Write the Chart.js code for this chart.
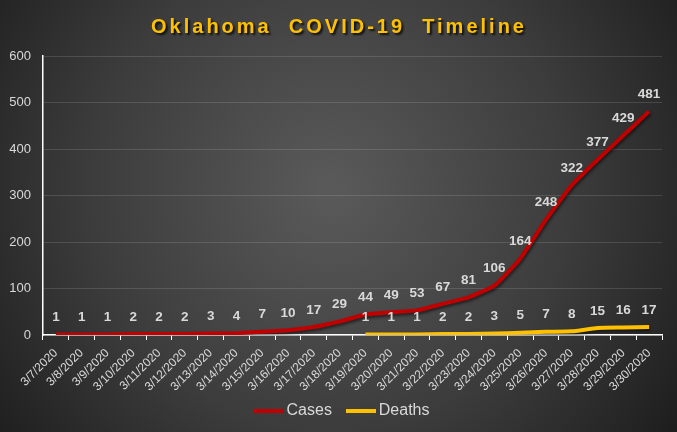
<!DOCTYPE html>
<html lang="en">
  <head>
    <meta charset="UTF-8" />
    <title>Oklahoma COVID-19 Timeline</title>
    <script src="https://cdn.jsdelivr.net/npm/chart.js"></script>
    <style>
      html, body { margin: 0; padding: 0; background: #2b2b2b; overflow: hidden; }
      canvas { display: block; }
    </style>
  </head>
  <body>
    <canvas id="myChart" width="677" height="432"></canvas>
    <script>
      // data
      const dates = [
        "3/7/2020", "3/8/2020", "3/9/2020", "3/10/2020", "3/11/2020", "3/12/2020",
        "3/13/2020", "3/14/2020", "3/15/2020", "3/16/2020", "3/17/2020", "3/18/2020",
        "3/19/2020", "3/20/2020", "3/21/2020", "3/22/2020", "3/23/2020", "3/24/2020",
        "3/25/2020", "3/26/2020", "3/27/2020", "3/28/2020", "3/29/2020", "3/30/2020",
      ];
      const cases = [1, 1, 1, 2, 2, 2, 3, 4, 7, 10, 17, 29, 44, 49, 53, 67, 81, 106, 164, 248, 322, 377, 429, 481];
      // no deaths reported before 3/19
      const deaths = [null, null, null, null, null, null, null, null, null, null, null, null,
        1, 1, 1, 2, 2, 3, 5, 7, 8, 15, 16, 17];
      const yTicks = [0, 100, 200, 300, 400, 500, 600];

      const FONT = "'Liberation Sans', Arial, sans-serif";
      const TEXT = "#d9d9d9";

      // little line swatch for the legend
      const swatch = (color) => {
        const c = document.createElement("canvas");
        c.width = 30;
        c.height = 4;
        const g = c.getContext("2d");
        g.fillStyle = color;
        g.fillRect(0, 0, 30, 4);
        return c;
      };

      // radial grey background + title
      const backdrop = {
        id: "backdrop",
        afterLayout(chart) {
          // legend sits a bit right of the canvas centre
          chart.legend.left += 13;
          chart.legend.right += 13;
        },
        beforeDraw(chart) {
          const ctx = chart.ctx;
          const g = ctx.createRadialGradient(330, 190, 10, 330, 190, 430);
          g.addColorStop(0, "#595959");
          g.addColorStop(0.55, "#3c3c3c");
          g.addColorStop(1, "#1c1c1c");
          ctx.save();
          ctx.fillStyle = g;
          ctx.fillRect(0, 0, chart.width, chart.height);
          ctx.restore();
        },
        afterDraw(chart) {
          const ctx = chart.ctx;
          ctx.save();
          ctx.font = "bold 20px " + FONT;
          ctx.letterSpacing = "3px";
          ctx.textAlign = "center";
          ctx.textBaseline = "alphabetic";
          ctx.shadowColor = "rgba(0,0,0,0.75)";
          ctx.shadowOffsetX = 2;
          ctx.shadowOffsetY = 2;
          ctx.shadowBlur = 2;
          ctx.fillStyle = "#ffc000";
          ctx.fillText("Oklahoma  COVID-19  Timeline", 339, 33);
          ctx.restore();
        },
      };

      // shadow under the lines
      const lineShadow = {
        id: "lineShadow",
        beforeDatasetDraw(chart) {
          const ctx = chart.ctx;
          ctx.save();
          ctx.shadowColor = "rgba(0,0,0,0.55)";
          ctx.shadowOffsetY = 2;
          ctx.shadowOffsetX = 1;
          ctx.shadowBlur = 3;
        },
        afterDatasetDraw(chart) {
          chart.ctx.restore();
        },
      };

      // value labels above each point
      const valueLabels = {
        id: "valueLabels",
        afterDatasetsDraw(chart) {
          const ctx = chart.ctx;
          ctx.save();
          ctx.font = "bold 13.5px " + FONT;
          ctx.fillStyle = TEXT;
          ctx.textAlign = "center";
          ctx.textBaseline = "middle";
          chart.data.datasets.forEach((ds, i) => {
            const meta = chart.getDatasetMeta(i);
            meta.data.forEach((pt, j) => {
              const v = ds.data[j];
              if (v == null) return;
              ctx.fillText(String(v), pt.x, pt.y - 17);
            });
          });
          ctx.restore();
        },
      };

      const config = {
        type: "line",
        data: {
          labels: dates,
          datasets: [
            {
              label: "Cases",
              data: cases,
              borderColor: "#c00000",
              backgroundColor: "#c00000",
              borderWidth: 4,
              pointRadius: 0,
              pointStyle: swatch("#c00000"),
              tension: 0.15,
            },
            {
              label: "Deaths",
              data: deaths,
              borderColor: "#ffc000",
              backgroundColor: "#ffc000",
              borderWidth: 4,
              pointRadius: 0,
              pointStyle: swatch("#ffc000"),
              tension: 0.15,
            },
          ],
        },
        options: {
          responsive: false,
          animation: false,
          devicePixelRatio: 1,
          layout: { padding: { top: 56, right: 15, left: 0, bottom: 3 } },
          plugins: {
            title: { display: false },
            tooltip: { enabled: false },
            legend: {
              position: "bottom",
              labels: {
                color: TEXT,
                font: { family: FONT, size: 16 },
                usePointStyle: true,
                pointStyleWidth: 20,
                boxHeight: 4,
                padding: 10,
                generateLabels(chart) {
                  const items = Chart.defaults.plugins.legend.labels.generateLabels(chart);
                  // a bit more room after the first entry
                  items[0].text += "  ";
                  return items;
                },
              },
            },
          },
          scales: {
            x: {
              offset: true,
              grid: {
                offset: true,
                drawOnChartArea: false,
                drawTicks: true,
                tickLength: 5,
                color: "#ffffff",
              },
              border: { color: "#ffffff", width: 1.5 },
              ticks: {
                color: TEXT,
                font: { family: FONT, size: 12 },
                minRotation: 45,
                maxRotation: 45,
                autoSkip: false,
                padding: 6,
              },
              afterFit(scale) {
                scale.height = 58;
              },
            },
            y: {
              min: yTicks[0],
              max: yTicks[yTicks.length - 1],
              afterBuildTicks(scale) {
                scale.ticks = yTicks.map((v) => ({ value: v }));
              },
              grid: {
                color: "rgba(255,255,255,0.13)",
                drawTicks: false,
              },
              border: { color: "#ffffff", width: 1.5 },
              ticks: {
                color: TEXT,
                font: { family: FONT, size: 13 },
                padding: 12,
              },
              afterFit(scale) {
                scale.width = 43;
              },
            },
          },
        },
        plugins: [backdrop, lineShadow, valueLabels],
      };

      new Chart(document.getElementById("myChart"), config);
    </script>
  </body>
</html>
